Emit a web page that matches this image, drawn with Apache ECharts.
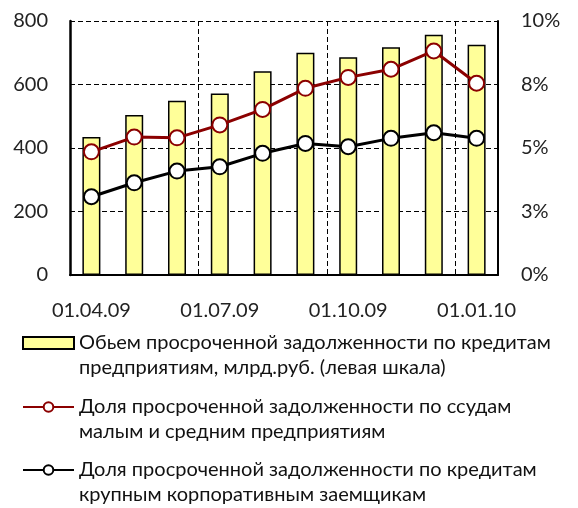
<!DOCTYPE html>
<html><head><meta charset="utf-8">
<script src="https://cdn.jsdelivr.net/npm/echarts@6/dist/echarts.min.js"></script>
<style>html,body{margin:0;padding:0;background:#fff}#c{width:578px;height:508px}</style>
</head><body><div id="c"></div>
<script>
// ---- data ----
const categories = ['01.04.09','01.05.09','01.06.09','01.07.09','01.08.09','01.09.09','01.10.09','01.11.09','01.12.09','01.01.10'];
const overdueVolume = [435, 504, 549, 572, 642, 700, 686, 717, 757, 725];   // млрд.руб., left axis
const smeShare = [4.85, 5.43, 5.40, 5.91, 6.52, 7.35, 7.78, 8.10, 8.82, 7.55]; // %, right axis
const corpShare = [3.08, 3.63, 4.09, 4.26, 4.79, 5.18, 5.05, 5.38, 5.60, 5.38]; // %, right axis
const leftAxisTicks = [0, 200, 400, 600, 800];
const rightAxisTicks = [0, 2.5, 5, 7.5, 10];
const seriesNames = [
  'Обьем просроченной задолженности по кредитам предприятиям, млрд.руб. (левая шкала)',
  'Доля просроченной задолженности по ссудам малым и средним предприятиям',
  'Доля просроченной задолженности по кредитам крупным корпоративным заемщикам'
];
const legendLines = [
  ['Обьем просроченной задолженности по кредитам', 'предприятиям, млрд.руб. (левая шкала)'],
  ['Доля просроченной задолженности по ссудам', 'малым и средним предприятиям'],
  ['Доля просроченной задолженности по кредитам', 'крупным корпоративным заемщикам']
];

const FONT = 'Lato, "Open Sans", sans-serif';
const chart = echarts.init(document.getElementById('c'), null, {renderer: 'canvas'});
const LH = 25;
function mkLegend(i, top, extra) {
  return Object.assign({
    data: [seriesNames[i]],
    left: 22, top: top, orient: 'vertical',
    itemWidth: 51, itemHeight: 12, padding: 0,
    selectedMode: false,
    // blank first line so that the first text line sits level with the icon
    formatter: () => '{s| }\n{t|' + legendLines[i][0] + '}\n{t|' + legendLines[i][1] + '}',
    textStyle: {fontFamily: FONT, fontSize: 20, color: '#111', lineHeight: LH,
      rich: {s: {fontSize: 20, lineHeight: LH}, t: {fontFamily: FONT, fontSize: 20, color: '#111', lineHeight: LH}}}
  }, extra || {});
}
const option = {
  animation: false,
  backgroundColor: '#fff',
  grid: {left: 70, right: 80, top: 21, bottom: 233, containLabel: false},
  xAxis: {
    type: 'category', data: categories, boundaryGap: true,
    axisLine: {lineStyle: {color: '#000', width: 2}},
    axisTick: {show: false},
    axisLabel: {interval: 2, margin: 26, fontFamily: FONT, fontSize: 20, color: '#222'},
    splitLine: {show: true, interval: 2, lineStyle: {color: '#000', width: 1, type: [5, 3]}}
  },
  yAxis: [{
    type: 'value', min: leftAxisTicks[0], max: leftAxisTicks[leftAxisTicks.length - 1],
    interval: leftAxisTicks[1] - leftAxisTicks[0],
    axisLine: {show: true, lineStyle: {color: '#000', width: 2.5}},
    axisTick: {show: false},
    axisLabel: {margin: 22, fontFamily: FONT, fontSize: 20, color: '#222'},
    splitLine: {show: true, lineStyle: {color: '#000', width: 1, type: [5, 3]}}
  }, {
    type: 'value', min: rightAxisTicks[0], max: rightAxisTicks[rightAxisTicks.length - 1],
    interval: rightAxisTicks[1] - rightAxisTicks[0],
    axisLine: {show: true, lineStyle: {color: '#000', width: 2}},
    axisTick: {show: false},
    axisLabel: {margin: 23, fontFamily: FONT, fontSize: 20, color: '#222',
      formatter: v => Math.round(v) + '%'},
    splitLine: {show: false}
  }],
  legend: [
    mkLegend(0, 305.5, {icon: 'rect', itemStyle: {borderWidth: 2, borderColor: '#000'}}),
    mkLegend(1, 369.5, {lineStyle: {width: 2}, itemStyle: {borderWidth: 2}}),
    mkLegend(2, 432.5, {lineStyle: {width: 2}, itemStyle: {borderWidth: 2}})
  ],
  series: [{
    name: seriesNames[0], type: 'bar', data: overdueVolume, yAxisIndex: 0,
    barWidth: 18, z: 1,
    itemStyle: {color: '#FFFF99', borderColor: '#000', borderWidth: 1.5}
  }, {
    name: seriesNames[1], type: 'line', data: smeShare, yAxisIndex: 1,
    symbol: 'circle', symbolSize: 15, z: 3,
    lineStyle: {color: '#8B0000', width: 3},
    itemStyle: {color: '#fff', borderColor: '#8B0000', borderWidth: 2}
  }, {
    name: seriesNames[2], type: 'line', data: corpShare, yAxisIndex: 1,
    symbol: 'circle', symbolSize: 15, z: 3,
    lineStyle: {color: '#000', width: 3},
    itemStyle: {color: '#fff', borderColor: '#000', borderWidth: 2}
  }]
};
chart.setOption(option);
</script></body></html>
